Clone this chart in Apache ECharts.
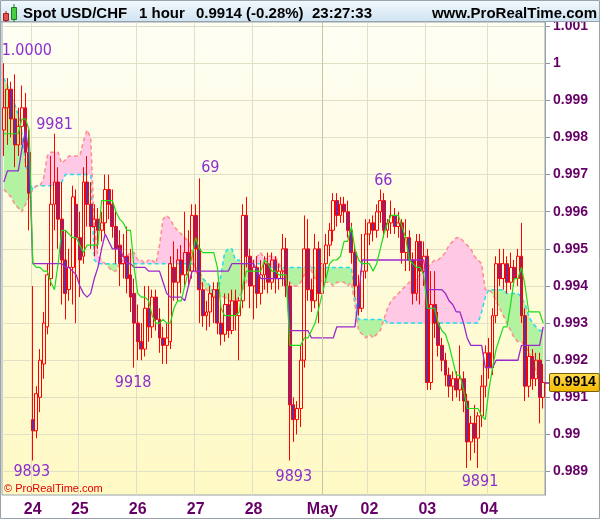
<!DOCTYPE html>
<html><head><meta charset="utf-8">
<script src="https://cdn.jsdelivr.net/npm/echarts@6/dist/echarts.min.js"></script>
<style>html,body{margin:0;padding:0;background:#fff}#c{width:600px;height:519px}</style>
</head><body><div id="c"></div>
<script>
// Prices are in ten-thousandths (the chart's own 4-digit notation, e.g. 9981 = 0.9981)
const dayNames = ['21','24','25','26','27','28','May','02','03','04'];
const barsPerDay = [8,13,16,16,16,19,13,16,17,16];

const opens = [9982,9988,9993,9985,9978,9983,9988,9976,9904,9901,
 9910,9919,9929,9942,9962,9968,9958,9947,9939,9945,
 9962,9953,9948,9968,9962,9956,9958,9955,9957,9966,
 9962,9956,9951,9946,9948,9943,9938,9930,9925,9923,
 9934,9929,9937,9931,9926,9924,9925,9945,9941,9947,
 9943,9949,9944,9959,9950,9939,9932,9933,9937,9939,
 9930,9927,9935,9928,9936,9932,9936,9959,9948,9940,
 9945,9938,9943,9946,9941,9947,9942,9944,9950,9940,
 9908,9904,9907,9920,9950,9939,9936,9950,9938,9946,
 9951,9955,9963,9959,9962,9960,9955,9949,9940,9934,
 9944,9954,9957,9955,9960,9963,9955,9957,9959,9956,
 9957,9949,9953,9947,9938,9952,9944,9948,9914,9935,
 9930,9924,9920,9916,9913,9915,9912,9915,9909,9898,
 9903,9899,9905,9913,9922,9918,9932,9946,9942,9946,
 9941,9945,9942,9948,9932,9913,9921,9915,9920,9910];
const closes = [9988,9993,9985,9978,9983,9988,9976,9965,9901,9911,
 9920,9930,9943,9962,9968,9958,9947,9938,9945,9964,
 9953,9947,9968,9962,9956,9958,9955,9957,9966,9962,
 9956,9950,9946,9948,9942,9937,9930,9925,9923,9934,
 9929,9937,9931,9926,9924,9926,9946,9941,9947,9943,
 9949,9944,9959,9950,9939,9932,9933,9938,9939,9930,
 9927,9935,9928,9936,9932,9936,9959,9948,9940,9945,
 9938,9943,9946,9941,9947,9942,9944,9950,9940,9908,
 9904,9907,9920,9950,9939,9936,9950,9938,9946,9951,
 9955,9963,9959,9962,9960,9955,9949,9940,9934,9944,
 9954,9957,9955,9960,9963,9955,9957,9959,9956,9957,
 9949,9953,9947,9938,9952,9944,9948,9914,9935,9930,
 9924,9920,9916,9913,9915,9912,9915,9909,9898,9903,
 9899,9905,9913,9922,9918,9932,9946,9942,9946,9941,
 9945,9942,9948,9932,9913,9921,9915,9920,9910,9914];
const lows = [9975,9978,9980,9972,9975,9978,9972,9955,9893,9899,
 9906,9915,9927,9940,9955,9950,9935,9931,9936,9935,
 9930,9937,9946,9956,9950,9948,9950,9952,9954,9958,
 9953,9946,9940,9942,9938,9933,9918,9920,9920,9921,
 9925,9926,9928,9922,9919,9919,9923,9936,9936,9938,
 9940,9940,9942,9944,9930,9929,9928,9929,9930,9927,
 9924,9925,9926,9927,9928,9920,9934,9945,9934,9931,
 9934,9935,9939,9938,9939,9938,9939,9940,9937,9893,
 9898,9900,9902,9918,9936,9933,9934,9930,9935,9942,
 9948,9952,9956,9957,9957,9953,9946,9937,9932,9933,
 9942,9951,9952,9953,9957,9953,9953,9954,9954,9953,
 9946,9944,9944,9935,9936,9935,9940,9912,9912,9926,
 9921,9917,9913,9910,9909,9910,9909,9906,9891,9893,
 9895,9891,9902,9910,9915,9916,9930,9940,9939,9938,
 9939,9940,9940,9930,9909,9910,9912,9913,9903,9907];
const highs = [10000,9996,9995,9997,9988,9994,9992,9982,9940,9913,
 9923,9933,9946,9975,9981,9972,9968,9955,9950,9967,
 9966,9960,9972,9975,9968,9962,9961,9960,9970,9970,
 9966,9960,9955,9954,9956,9950,9942,9935,9930,9940,
 9940,9939,9939,9934,9929,9930,9948,9952,9950,9951,
 9960,9955,9962,9962,9969,9941,9936,9940,9941,9941,
 9935,9938,9938,9939,9939,9937,9962,9964,9950,9947,
 9948,9947,9948,9949,9949,9948,9946,9954,9953,9941,
 9910,9909,9924,9959,9958,9942,9954,9952,9949,9954,
 9957,9965,9965,9964,9964,9963,9957,9951,9943,9954,
 9958,9958,9959,9962,9966,9965,9958,9963,9961,9960,
 9958,9958,9955,9949,9954,9954,9952,9950,9944,9944,
 9933,9926,9922,9918,9917,9917,9924,9917,9911,9905,
 9908,9906,9916,9924,9926,9934,9948,9950,9950,9948,
 9949,9947,9950,9957,9934,9924,9923,9922,9922,9919];

const tenkan = [9981,9981,9981,9981,9981,9985,9985,9982,9946,9945,
 9945,9944,9944,9941,9939,9946,9955,9955,9954,9953,
 9953,9951,9949,9951,9951,9951,9951,9963,9963,9963,
 9963,9960,9958,9957,9955,9955,9945,9938,9937,9937,
 9936,9932,9930,9930,9931,9930,9930,9934,9936,9936,
 9940,9944,9948,9953,9950,9949,9949,9949,9949,9945,
 9934,9932,9932,9932,9932,9933,9940,9944,9944,9944,
 9944,9944,9947,9946,9944,9944,9943,9943,9943,9924,
 9924,9924,9924,9926,9926,9928,9930,9934,9938,9942,
 9946,9947,9947,9948,9952,9952,9956,9950,9947,9946,
 9946,9946,9944,9946,9950,9954,9957,9959,9959,9959,
 9956,9953,9947,9946,9945,9945,9943,9934,9934,9934,
 9930,9928,9927,9924,9920,9916,9916,9912,9907,9907,
 9907,9907,9905,9904,9912,9918,9923,9926,9929,9929,
 9935,9942,9942,9945,9940,9933,9933,9933,9933,9930];
const kijun = [9968,9971,9971,9971,9971,9977,9982,9975,9946,9946,
 9946,9946,9946,9946,9946,9946,9946,9945,9945,9944,
 9943,9940,9938,9937,9938,9942,9945,9950,9954,9952,
 9950,9950,9950,9948,9946,9946,9945,9945,9945,9945,
 9944,9944,9944,9944,9941,9938,9937,9937,9937,9937,
 9936,9940,9944,9944,9944,9944,9944,9944,9944,9944,
 9944,9944,9944,9946,9946,9946,9946,9946,9946,9946,
 9944,9942,9942,9942,9942,9942,9942,9942,9942,9928,
 9928,9928,9928,9928,9928,9926,9926,9926,9926,9926,
 9926,9926,9929,9929,9929,9929,9929,9929,9937,9947,
 9947,9947,9947,9947,9947,9947,9947,9947,9947,9947,
 9947,9947,9947,9947,9947,9947,9947,9939,9939,9939,
 9939,9939,9938,9936,9935,9933,9933,9930,9926,9924,
 9924,9924,9924,9918,9918,9918,9920,9920,9920,9920,
 9920,9920,9920,9924,9924,9924,9924,9924,9924,9929];
const spanA = [9996,9994,9991,9989,9986,9981,9973,9968,9966,9967,
 9967,9967,9967,9967,9967,9967,9968,9970,9970,9970,
 9970,9970,9970,9970,9970,9947,9946,9946,9946,9946,
 9946,9946,9946,9946,9946,9946,9946,9946,9946,9946,
 9946,9946,9946,9946,9946,9946,9946,9946,9946,9946,
 9946,9946,9946,9945,9944,9942,9941,9940,9938,9937,
 9943,9949,9950,9950,9947,9947,9946,9946,9946,9946,
 9946,9946,9946,9945,9945,9945,9945,9945,9945,9945,
 9945,9945,9945,9945,9945,9945,9945,9945,9945,9945,
 9945,9945,9945,9945,9945,9945,9945,9938,9931,9931,
 9931,9931,9931,9931,9931,9931,9930,9930,9930,9930,
 9930,9930,9930,9930,9930,9930,9930,9930,9930,9930,
 9930,9930,9930,9930,9930,9930,9930,9930,9930,9930,
 9930,9930,9933,9937,9939,9939,9939,9939,9939,9938,
 9938,9938,9938,9937,9935,9932,9930,9929,9928,9928];
const spanB = [9966,9965,9964,9962,9961,9960,9962,9964,9966,9967,
 9967,9969,9975,9976,9976,9976,9973,9974,9975,9975,
 9975,9975,9979,9982,9980,9956,9948,9947,9946,9945,
 9944,9944,9946,9947,9948,9949,9949,9947,9947,9946,
 9947,9947,9946,9951,9958,9959,9958,9956,9955,9954,
 9953,9952,9949,9944,9942,9940,9939,9938,9937,9937,
 9937,9937,9936,9936,9936,9937,9939,9941,9944,9947,
 9948,9949,9947,9948,9948,9948,9946,9944,9943,9941,
 9940,9940,9941,9943,9947,9944,9942,9942,9941,9941,
 9941,9940,9941,9941,9941,9940,9941,9935,9928,9927,
 9926,9927,9926,9927,9928,9931,9934,9936,9937,9938,
 9939,9940,9941,9941,9942,9943,9945,9945,9946,9947,
 9947,9948,9949,9951,9952,9953,9953,9952,9951,9950,
 9948,9947,9946,9939,9939,9938,9936,9934,9932,9930,
 9928,9926,9925,9925,9924,9922,9920,9917,9915,9914];

const yTicks = [0.989,0.990,0.991,0.992,0.993,0.994,0.995,0.996,0.997,0.998,0.999,1.000,1.001];
const yTickLabels = ['0.989','0.99','0.991','0.992','0.993','0.994','0.995','0.996','0.997','0.998','0.999','1','1.001'];

// swing high / low annotations
const extremeIdx = [0, 14, 54, 36, 8, 104, 79, 131];
const extremeKind = ['high','high','high','low','low','high','low','low'];
const extremeLabels = ['1.0000','9981','69','9918','9893','66','9893','9891'];
const lastPrice = 9914;

const P = v => v / 10000;
const categories = [];
const dayStart = [];
dayNames.forEach((d, k) => {
  if (k > 0) dayStart.push(categories.length);
  for (let j = 0; j < barsPerDay[k]; j++) categories.push(d + ' #' + j);
});
const monthIdx = categories.indexOf('May #0');

const candleData = opens.map((o, i) => [P(o), P(closes[i]), P(lows[i]), P(highs[i])]);
const cloudLow = spanA.map((a, i) => P(Math.min(a, spanB[i])));
const cloudPink = spanA.map((a, i) => P(Math.max(spanB[i] - a, 0)));
const cloudGreen = spanA.map((a, i) => P(Math.max(a - spanB[i], 0)));

const labelOffsets = [[23,-12],[0,-9],[11,-10],[-1,15],[-1,11.5],[3,-9],[4,16],[2,13.5]];
const markPts = extremeIdx.map((idx, k) => ({
  coord: [categories[idx], P(extremeKind[k] === 'high' ? highs[idx] : lows[idx])],
  symbol: 'circle', symbolSize: 1, itemStyle: {color: 'rgba(0,0,0,0)'},
  label: {show: true, position: 'inside', offset: labelOffsets[k], formatter: extremeLabels[k],
    color: '#8B2FCF', fontSize: 16, fontFamily: "'DejaVu Sans Condensed','DejaVu Sans',sans-serif"}
}));

const chart = echarts.init(document.getElementById('c'));
const G = echarts.graphic.LinearGradient;
const SANS = "'Liberation Sans',Arial,sans-serif";
const HFONT = "bold 15px " + SANS;
const Y_MIN = 0.98837, Y_MAX = 1.00111;

chart.setOption({
  animation: false,
  backgroundColor: '#ffffff',
  grid: { left: 2, right: 55, top: 22, bottom: 24, show: true, containLabel: false, outerBoundsMode: 'none',
    backgroundColor: new G(0,0,0,1,[{offset:0,color:'#FEFEF4'},{offset:1,color:'#FFF9C4'}]),
    borderColor: '#98A2AC', borderWidth: 1 },
  xAxis: { type: 'category', data: categories, boundaryGap: true,
    axisLine: {show: false}, axisTick: {show: false},
    axisLabel: { interval: (i) => dayStart.includes(i), formatter: v => v.split(' #')[0],
      color: '#660066', fontWeight: 'bold', fontSize: 16, fontFamily: SANS, margin: 7 },
    splitLine: { show: true, interval: (i) => dayStart.includes(i) && i !== monthIdx,
      lineStyle: { color: '#E0E0C4', width: 1 } } },
  yAxis: [
    { type: 'value', position: 'right', min: Y_MIN, max: Y_MAX,
      axisLine: {show: true, lineStyle: {color: '#98A2AC'}},
      axisTick: {show: true, length: 5, customValues: yTicks, lineStyle: {color: '#8A949E'}},
      axisLabel: { customValues: yTicks, margin: 8,
        formatter: v => { const k = yTicks.findIndex(t => Math.abs(t - v) < 1e-7); return k >= 0 ? yTickLabels[k] : ''; },
        color: '#660066', fontWeight: 'bold', fontSize: 14, fontFamily: SANS },
      splitLine: { show: true, lineStyle: {color: '#E0E0C4'} } },
    { type: 'value', position: 'right', min: Y_MIN, max: Y_MAX, z: 20,
      axisLine: {show: false}, splitLine: {show: false},
      axisTick: {show: true, length: 5, customValues: [P(lastPrice)], lineStyle: {color: '#7A1E9E', width: 1.5}},
      axisLabel: { customValues: [P(lastPrice)], margin: 5, formatter: v => v.toFixed(4),
        backgroundColor: new G(0,0,0,1,[{offset:0,color:'#FFDD55'},{offset:1,color:'#F5B800'}]),
        borderColor: '#7A6000', borderWidth: 1, padding: [2,3,1,3], borderRadius: 1,
        color: '#000000', fontWeight: 'bold', fontSize: 14, fontFamily: SANS } }
  ],
  series: [
    { name: 'cloudBase', type: 'line', stack: 'cloud', data: cloudLow, symbol: 'none', z: 1,
      lineStyle: {opacity: 0}, silent: true },
    { name: 'cloudPink', type: 'line', stack: 'cloud', data: cloudPink, symbol: 'none', z: 1,
      lineStyle: {opacity: 0}, areaStyle: {color: '#FFC8E4', opacity: 1}, silent: true },
    { name: 'cloudGreen', type: 'line', stack: 'cloud', data: cloudGreen, symbol: 'none', z: 1,
      lineStyle: {opacity: 0}, areaStyle: {color: '#B2F2A0', opacity: 1}, silent: true },
    { name: 'Senkou A', type: 'line', data: spanA.map(P), symbol: 'none', z: 2,
      lineStyle: {color: '#22DDEE', width: 1.5, type: [4,3]} },
    { name: 'Senkou B', type: 'line', data: spanB.map(P), symbol: 'none', z: 2,
      lineStyle: {color: '#FF8C8C', width: 1.5, type: [4,3]} },
    { name: 'USD/CHF', type: 'candlestick', data: candleData, z: 3, barWidth: 3.4,
      itemStyle: { color: 'rgba(0,0,0,0)', color0: '#6A2C9C', borderColor: '#FF0000', borderColor0: '#FF0000', borderWidth: 1 },
      markPoint: { silent: true, data: markPts },
      markLine: { silent: true, symbol: ['none','none'], data: [
        { xAxis: categories[monthIdx], lineStyle: {color: '#C6C6A6', type: 'solid', width: 1}, label: {show: false} }
      ] } },
    { name: 'Kijun', type: 'line', data: kijun.map(P), symbol: 'none', z: 4,
      lineStyle: {color: '#9A28CC', width: 1.3} },
    { name: 'Tenkan', type: 'line', data: tenkan.map(P), symbol: 'none', z: 4,
      lineStyle: {color: '#19DD19', width: 1.2} }
  ],
  graphic: [
    { type: 'rect', shape: {x: 0, y: 0, width: 600, height: 22}, z: 10,
      style: { fill: new G(0,0,0,1,[{offset:0,color:'#F2F9FE'},{offset:1,color:'#CFE3F1'}]) } },
    { type: 'line', shape: {x1: 0, y1: 21.5, x2: 600, y2: 21.5}, z: 11, style: {stroke: '#98A2AC', lineWidth: 1} },
    { type: 'line', shape: {x1: 6, y1: 11, x2: 6, y2: 22}, z: 11, style: {stroke: '#A02020', lineWidth: 1} },
    { type: 'rect', shape: {x: 3.5, y: 13.5, width: 5, height: 7}, z: 12, style: {fill: '#E85050', stroke: '#A02020', lineWidth: 1} },
    { type: 'line', shape: {x1: 14, y1: 4, x2: 14, y2: 22}, z: 11, style: {stroke: '#207A20', lineWidth: 1} },
    { type: 'rect', shape: {x: 11.5, y: 7.5, width: 5, height: 12}, z: 12, style: {fill: '#44D044', stroke: '#207A20', lineWidth: 1} },
    { type: 'text', z: 12, style: { x: 23, y: 14, text: 'Spot USD/CHF', font: HFONT, fill: '#000', verticalAlign: 'middle', textVerticalAlign: 'middle' } },
    { type: 'text', z: 12, style: { x: 139, y: 14, text: '1 hour', font: HFONT, fill: '#000', verticalAlign: 'middle', textVerticalAlign: 'middle' } },
    { type: 'text', z: 12, style: { x: 196, y: 14, text: '0.9914 (-0.28%)', font: HFONT, fill: '#000', verticalAlign: 'middle', textVerticalAlign: 'middle' } },
    { type: 'text', z: 12, style: { x: 312, y: 14, text: '23:27:33', font: HFONT, fill: '#000', verticalAlign: 'middle', textVerticalAlign: 'middle' } },
    { type: 'text', z: 12, style: { x: 597, y: 14, text: 'www.ProRealTime.com', font: HFONT, fill: '#000', align: 'right', textAlign: 'right', verticalAlign: 'middle', textVerticalAlign: 'middle' } },
    { type: 'text', z: 12, style: { x: 4, y: 489, text: '\u00A9 ProRealTime.com', font: "11px " + SANS, fill: '#E00000', verticalAlign: 'middle', textVerticalAlign: 'middle' } },
    { type: 'rect', shape: {x: 0.5, y: 0.5, width: 599, height: 518}, z: 13, style: {fill: 'none', stroke: '#98A2AC', lineWidth: 1} }
  ]
});
</script>
</body></html>
